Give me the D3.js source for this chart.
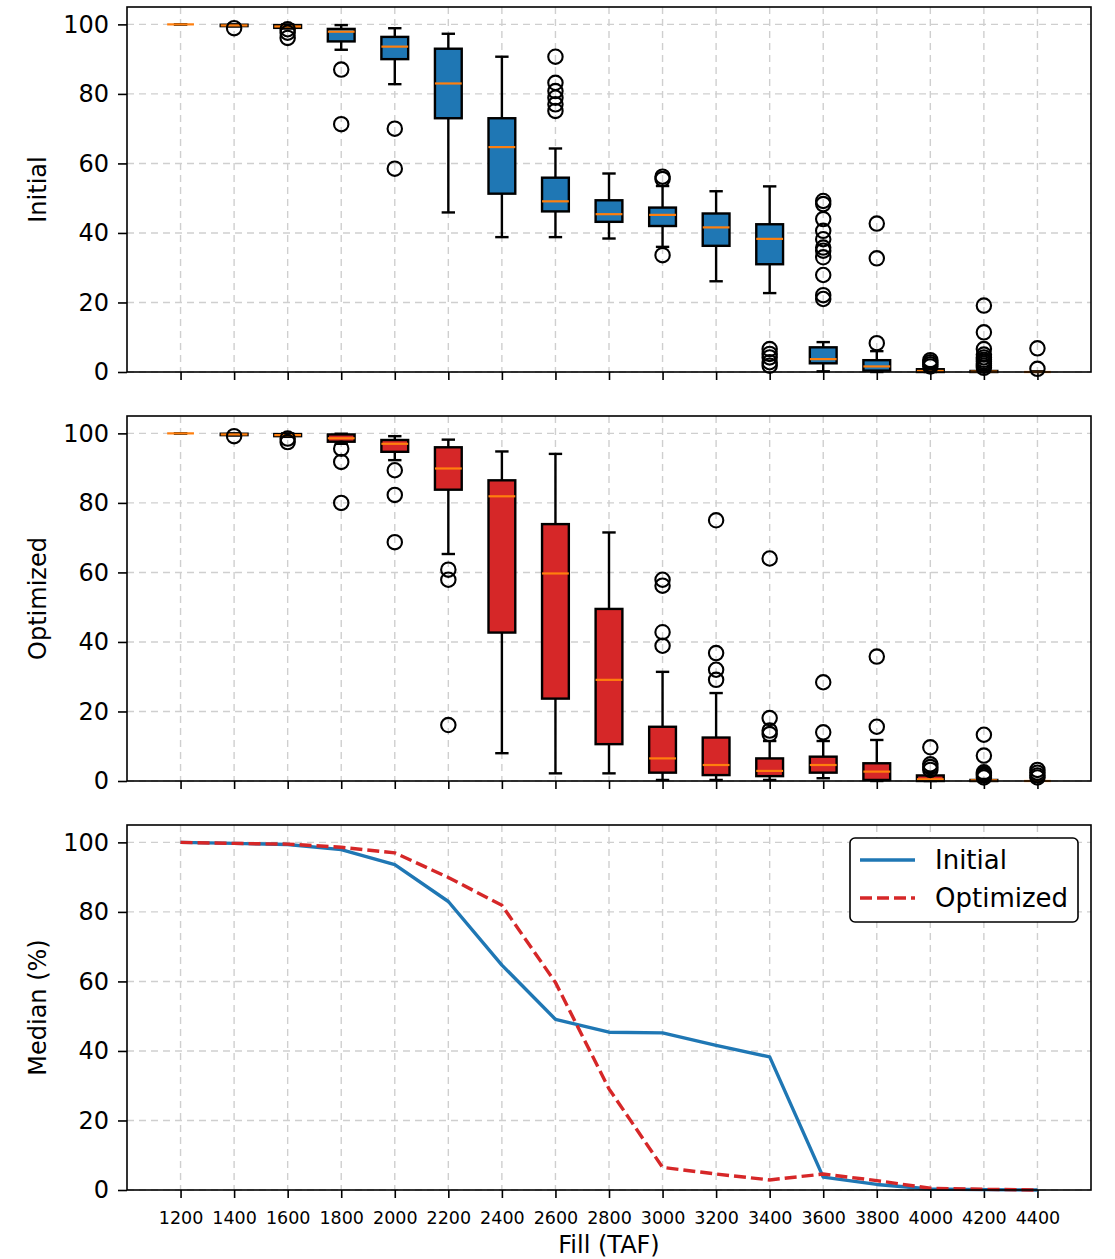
<!DOCTYPE html>
<html>
<head>
<meta charset="utf-8">
<script src="https://cdn.jsdelivr.net/npm/d3@7"></script>
<style>
  html, body { margin: 0; padding: 0; background: #fff; }
  svg { display: block; font-family: "DejaVu Sans", sans-serif; }
</style>
</head>
<body>
<svg id="chart" width="1115" height="1259"></svg>
<script>
// ---------------- DATA ----------------
const categories = [1200, 1400, 1600, 1800, 2000, 2200, 2400, 2600, 2800, 3000, 3200, 3400, 3600, 3800, 4000, 4200, 4400];

// Initial
const initLo  = [100, 99.4, 98.8, 92.7, 82.8, 45.9, 38.8, 38.8, 38.4, 36.0, 26.1, 22.7, 0.2, 0, 0, 0, 0];
const initQ1  = [100, 99.5, 99.0, 95.1, 90.0, 73.0, 51.3, 46.2, 43.2, 42.0, 36.3, 31.0, 2.5, 0.4, 0, 0, 0];
const initMed = [100, 99.7, 99.4, 97.9, 93.6, 83.0, 64.7, 49.1, 45.4, 45.2, 41.6, 38.3, 3.7, 1.6, 0.3, 0.1, 0];
const initQ3  = [100, 99.9, 99.8, 98.7, 96.4, 93.0, 73.0, 55.9, 49.4, 47.3, 45.6, 42.5, 7.1, 3.4, 0.8, 0.3, 0.1];
const initHi  = [100, 100, 100, 99.8, 98.9, 97.3, 90.7, 64.3, 57.1, 53.5, 52.0, 53.4, 8.6, 6.0, 1.4, 0.6, 0.2];
const initOut = [[], [98.9], [98.6, 97.6, 96.1], [87.0, 71.3], [70.0, 58.5], [], [],
  [90.7, 83.2, 80.8, 78.9, 77.0, 75.1], [], [56.2, 55.5, 33.6], [], [6.6, 5.2, 4.2, 2.8, 1.8],
  [49.2, 48.3, 44.0, 40.6, 38.2, 35.8, 34.9, 33.0, 27.9, 22.1, 21.0], [42.7, 32.7, 8.3],
  [3.4, 2.8, 2.2, 1.6], [19.1, 11.4, 6.6, 5.0, 4.2, 3.5, 3.0, 2.4, 1.8, 1.2], [6.8, 0.9]];

// Optimized
const optLo  = [100, 99.4, 99.0, 97.0, 92.3, 65.3, 8.0, 2.2, 2.2, 0.3, 0.3, 0.3, 0.8, 0, 0, 0, 0];
const optQ1  = [100, 99.5, 99.2, 97.6, 94.7, 83.8, 42.7, 23.7, 10.6, 2.4, 1.7, 1.4, 2.4, 0.3, 0, 0, 0];
const optMed = [100, 99.7, 99.5, 98.6, 97.0, 89.9, 81.9, 59.7, 29.1, 6.5, 4.6, 2.9, 4.6, 2.7, 0.5, 0.2, 0];
const optQ3  = [100, 99.9, 99.8, 99.7, 98.1, 96.0, 86.5, 73.9, 49.5, 15.6, 12.5, 6.5, 7.0, 5.1, 1.6, 0.3, 0.1];
const optHi  = [100, 100, 100, 99.9, 99.2, 98.2, 94.8, 94.1, 71.5, 31.4, 25.3, 11.5, 11.5, 11.8, 2.5, 0.6, 0.2];
const optOut = [[], [99.2], [98.5, 97.5], [95.6, 91.8, 80.0], [89.4, 82.3, 68.7], [60.8, 57.9, 16.1], [], [], [],
  [57.9, 56.2, 42.8, 38.9], [75.0, 36.8, 32.0, 29.1], [64.0, 18.1, 14.5, 13.5], [28.4, 14.0], [35.8, 15.6],
  [9.7, 4.8, 4.0, 3.2], [13.3, 7.3, 2.5, 2.0, 1.5, 1.0], [3.2, 2.4, 1.6, 1.0]];

const yTicks = [0, 20, 40, 60, 80, 100];
const seriesNames = ["Initial", "Optimized"];
const yLabels = ["Initial", "Optimized", "Median (%)"];
const xLabel = "Fill (TAF)";

// ---------------- LAYOUT ----------------
const svg = d3.select("#chart");
const left = 127, right = 1091;
const panels = [{top: 7, bottom: 372}, {top: 416, bottom: 781}, {top: 825, bottom: 1190}];
const blue = "#1f77b4", red = "#d62728", orange = "#ff7f0e";
const gridColor = "#cfcfcf";

const x = d3.scaleLinear().domain([0, categories.length + 1]).range([left, right]);
const xPos = (i) => x(i + 1);
const boxHalf = (x(1) - x(0)) * 0.25;
const capHalf = boxHalf * 0.5;

function makeY(p) { return d3.scaleLinear().domain([0, 105]).range([p.bottom, p.top]); }

function drawFrameAndGrid(p, y, showXLabels) {
  const g = svg.append("g");
  g.selectAll(".hg").data(yTicks).enter().append("line")
    .attr("x1", left).attr("x2", right)
    .attr("y1", d => y(d)).attr("y2", d => y(d))
    .attr("stroke", gridColor).attr("stroke-width", 1.4).attr("stroke-dasharray", "7,5");
  g.selectAll(".vg").data(categories).enter().append("line")
    .attr("x1", (d, i) => xPos(i)).attr("x2", (d, i) => xPos(i))
    .attr("y1", p.top).attr("y2", p.bottom)
    .attr("stroke", gridColor).attr("stroke-width", 1.4).attr("stroke-dasharray", "7,5");

  const ya = d3.axisLeft(y).tickValues(yTicks).tickSize(9).tickPadding(9);
  const yg = svg.append("g").attr("transform", `translate(${left},0)`).call(ya);
  yg.select(".domain").remove();
  yg.selectAll(".tick line").attr("stroke", "#000").attr("stroke-width", 1.6);
  yg.selectAll(".tick text").attr("font-size", 24).attr("fill", "#000")
    .attr("font-family", "DejaVu Sans, sans-serif");

  const xa = d3.axisBottom(x).tickValues(categories.map((c, i) => i + 1)).tickSize(8).tickPadding(14)
    .tickFormat((d) => showXLabels ? categories[d - 1] : "");
  const xg = svg.append("g").attr("transform", `translate(0,${p.bottom})`).call(xa);
  xg.select(".domain").remove();
  xg.selectAll(".tick line").attr("stroke", "#000").attr("stroke-width", 1.6);
  xg.selectAll(".tick text").attr("font-size", 17.5).attr("fill", "#000")
    .attr("font-family", "DejaVu Sans, sans-serif");
}

function drawFrame(p) {
  svg.append("rect").attr("x", left).attr("y", p.top)
    .attr("width", right - left).attr("height", p.bottom - p.top)
    .attr("fill", "none").attr("stroke", "#000").attr("stroke-width", 1.6);
}

function drawBoxes(p, y, lo, q1, med, q3, hi, out, fill) {
  const g = svg.append("g");
  const sw = 2.4;
  categories.forEach((c, i) => {
    const cx = xPos(i);
    g.append("line").attr("x1", cx).attr("x2", cx).attr("y1", y(q1[i])).attr("y2", y(lo[i]))
      .attr("stroke", "#000").attr("stroke-width", sw);
    g.append("line").attr("x1", cx).attr("x2", cx).attr("y1", y(q3[i])).attr("y2", y(hi[i]))
      .attr("stroke", "#000").attr("stroke-width", sw);
    [lo[i], hi[i]].forEach(v => {
      g.append("line").attr("x1", cx - capHalf).attr("x2", cx + capHalf)
        .attr("y1", y(v)).attr("y2", y(v)).attr("stroke", "#000").attr("stroke-width", sw);
    });
    const h = y(q1[i]) - y(q3[i]);
    if (h > 0.5) {
      g.append("rect").attr("x", cx - boxHalf).attr("y", y(q3[i]))
        .attr("width", boxHalf * 2).attr("height", h)
        .attr("fill", fill).attr("stroke", "#000").attr("stroke-width", sw);
    }
    g.append("line").attr("x1", cx - boxHalf).attr("x2", cx + boxHalf)
      .attr("y1", y(med[i])).attr("y2", y(med[i]))
      .attr("stroke", orange).attr("stroke-width", 2.2);
    g.selectAll(null).data(out[i]).enter().append("circle")
      .attr("cx", cx).attr("cy", d => y(d)).attr("r", 7.2)
      .attr("fill", "none").attr("stroke", "#000").attr("stroke-width", 2.1);
  });
}

function yLabel(p, text) {
  svg.append("text")
    .attr("transform", `translate(46,${(p.top + p.bottom) / 2}) rotate(-90)`)
    .attr("text-anchor", "middle").attr("font-size", 24).attr("fill", "#000")
    .text(text);
}

// Panel 1
{
  const p = panels[0], y = makeY(p);
  drawFrameAndGrid(p, y, false);
  drawBoxes(p, y, initLo, initQ1, initMed, initQ3, initHi, initOut, blue);
  drawFrame(p);
  yLabel(p, yLabels[0]);
}
// Panel 2
{
  const p = panels[1], y = makeY(p);
  drawFrameAndGrid(p, y, false);
  drawBoxes(p, y, optLo, optQ1, optMed, optQ3, optHi, optOut, red);
  drawFrame(p);
  yLabel(p, yLabels[1]);
}
// Panel 3
{
  const p = panels[2], y = makeY(p);
  drawFrameAndGrid(p, y, true);
  const line = d3.line().x((d, i) => xPos(i)).y(d => y(d));
  svg.append("path").datum(initMed).attr("d", line)
    .attr("fill", "none").attr("stroke", blue).attr("stroke-width", 3.4)
    .attr("stroke-linejoin", "round");
  svg.append("path").datum(optMed).attr("d", line)
    .attr("fill", "none").attr("stroke", red).attr("stroke-width", 3.4)
    .attr("stroke-dasharray", "12,5");
  drawFrame(p);
  yLabel(p, yLabels[2]);

  const lg = svg.append("g");
  lg.append("rect").attr("x", 850).attr("y", 838).attr("width", 228).attr("height", 84)
    .attr("rx", 5).attr("fill", "#fff").attr("stroke", "#000").attr("stroke-width", 1.6);
  const items = [{name: seriesNames[0], color: blue, dash: null, y: 860},
                 {name: seriesNames[1], color: red, dash: "12,5", y: 898}];
  items.forEach(it => {
    lg.append("line").attr("x1", 860).attr("x2", 915).attr("y1", it.y).attr("y2", it.y)
      .attr("stroke", it.color).attr("stroke-width", 3.4)
      .attr("stroke-dasharray", it.dash);
    lg.append("text").attr("x", 935).attr("y", it.y).attr("dy", "0.35em")
      .attr("font-size", 26).attr("fill", "#000").text(it.name);
  });

  svg.append("text").attr("x", (left + right) / 2).attr("y", 1253)
    .attr("text-anchor", "middle").attr("font-size", 24).attr("fill", "#000").text(xLabel);
}
</script>
</body>
</html>
